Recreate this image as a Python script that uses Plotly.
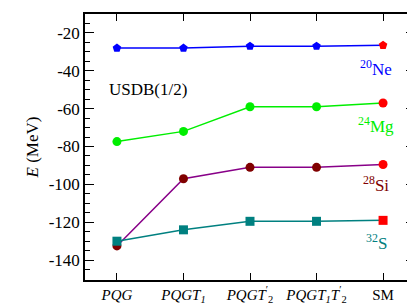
import plotly.graph_objects as go

categories = ["<i>PQG</i>", "<i>PQGT<sub>1</sub></i>", "<i>PQGT</i><sup>′</sup><sub>2</sub>",
              "<i>PQGT<sub>1</sub>T</i><sup>′</sup><sub>2</sub>", "SM"]
ytick_vals = [-140, -120, -100, -80, -60, -40, -20]
ytick_text = ["-140", "-120", "-100", "-80", "-60", "-40", "-20"]
ne20 = [-28, -28, -27, -27, -26.5]
mg24 = [-77.4, -72, -59, -59, -57]
si28 = [-132.5, -97, -91, -91, -89.5]
s32 = [-130, -124, -119.5, -119.5, -119]

SERIF = "Liberation Serif, Times New Roman, Times, serif"
x = list(range(len(categories)))
fig = go.Figure()

series = [
    (ne20, "#0000ff", "#0000ff", "pentagon", "<sup>20</sup>Ne", -38.5),
    (mg24, "#00ee00", "#00ee00", "circle", "<sup>24</sup>Mg", -68.5),
    (si28, "#880088", "#800000", "circle", "<sup>28</sup>Si", -100),
    (s32, "#008080", "#008080", "square", "<sup>32</sup>S", -130.5),
]
for vals, lc, mc, sym, lab, ly in series:
    fig.add_trace(go.Scatter(x=x, y=vals, mode="lines", line=dict(color=lc, width=1.5),
                             showlegend=False, hoverinfo="skip"))
    fig.add_trace(go.Scatter(x=x[:-1], y=vals[:-1], mode="markers",
                             marker=dict(color=mc, symbol=sym, size=9), showlegend=False))
    fig.add_trace(go.Scatter(x=x[-1:], y=vals[-1:], mode="markers",
                             marker=dict(color="#ff0000", symbol=sym, size=9), showlegend=False))
    fig.add_annotation(x=3.9, y=ly, xref="x", yref="y", text=lab, showarrow=False,
                       font=dict(size=17, color=mc, family=SERIF))

fig.add_annotation(x=0.47, y=-50, xref="x", yref="y", text="USDB(1/2)", showarrow=False,
                   font=dict(size=17, color="black", family=SERIF))

fig.update_layout(
    width=415, height=304,
    margin=dict(l=77, r=8, t=4, b=32),
    paper_bgcolor="white", plot_bgcolor="white",
    font=dict(family=SERIF, size=16, color="black"),
    xaxis=dict(range=[-0.48, 4.48], tickvals=x, ticktext=categories,
               ticks="inside", ticklen=7, tickwidth=1.2, tickcolor="black",
               showline=True, linecolor="black", linewidth=1.5, mirror="ticks",
               showgrid=False, zeroline=False, tickfont=dict(size=15, family=SERIF)),
    yaxis=dict(range=[-150.5, -10], tickvals=ytick_vals, ticktext=ytick_text,
               ticks="inside", ticklen=9, tickwidth=1.2, tickcolor="black",
               minor=dict(dtick=5, tick0=0, ticks="inside", ticklen=5, tickwidth=1.2, tickcolor="black"),
               showline=True, linecolor="black", linewidth=1.5, mirror="ticks",
               showgrid=False, zeroline=False, tickfont=dict(size=17, family=SERIF),
               title=dict(text="<i>E</i> (MeV)", font=dict(size=17, family=SERIF), standoff=6)),
)
fig.write_html("out.html")
